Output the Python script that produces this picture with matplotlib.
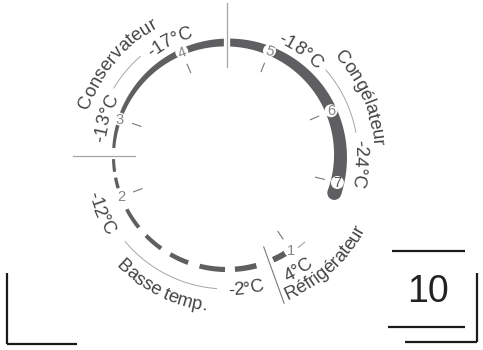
import matplotlib.pyplot as plt
import numpy as np
from matplotlib.font_manager import FontProperties
from matplotlib.patches import Circle, Polygon

# dial geometry (pixel space of the 483x350 picture)
CX, CY, R = 227, 156, 113.5

# setting numbers on the dial and their angles (degrees, counter-clockwise from east)
positions = ['1', '2', '3', '4', '5', '6', '7']
position_angles = [304, 201, 161, 113.5, 68, 23.5, -13.5]
position_rot = [0, 0, 0, 20, -20, 0, 0]

# temperature labels along the dial
temp_labels = ['-13°C', '-17°C', '-18°C', '-24°C', '-12°C', '-2°C', '4°C']
temp_angles = [162.5, 116.5, 55, -3.5, 204.5, 278, 302]
temp_radius = [123, 124, 124, 128, 144.5, 139.5, 139.5]
temp_outward = [True, True, True, True, False, False, False]

# zone names
zones = ['Conservateur', 'Congélateur', 'Basse temp.', 'Réfrigérateur']
zone_angles = [140, 23.5, 243.5, 312.5]
zone_radius = [146, 146, 156, 156]
zone_outward = [True, True, False, False]

# thin bracket arcs (start, end angle, radius)
bracket_arcs = [(149, 131, 132), (41, 10.5, 131), (220, 265.5, 133)]

# dashed "low temperature" range
dash_spans = [(180.5, 188), (191, 196.5), (208, 219), (224.5, 234.5),
              (240, 250), (256, 269), (274, 285), (294, 301)]

ARC = '#5f5f61'
TEXT = '#444446'
GREY = '#a6a6a6'


def polar(r, a):
    t = np.radians(a)
    return CX + r * np.cos(t), CY - r * np.sin(t)


def band(a0, a1, w0, w1, n=120):
    a = np.linspace(a0, a1, n)
    w = np.linspace(w0, w1, n)
    outer = np.column_stack(polar(R + w / 2, a))
    inner = np.column_stack(polar(R - w / 2, a))
    return np.vstack([outer, inner[::-1]])


def advance(renderer, ch, fp):
    w1 = renderer.get_text_width_height_descent('|' + ch + '|', fp, ismath=False)[0]
    w0 = renderer.get_text_width_height_descent('||', fp, ismath=False)[0]
    return w1 - w0


def arc_text(ax, renderer, s, r, mid, fs, outward):
    fp = FontProperties(family='Liberation Sans', size=fs)
    advs = [advance(renderer, ch, fp) for ch in s]
    total = sum(advs)
    sign = -1 if outward else 1
    a = np.radians(mid) - sign * total / 2 / r
    for ch, w in zip(s, advs):
        ac = np.degrees(a + sign * w / 2 / r)
        x, y = polar(r, ac)
        rot = ac - 90 if outward else ac + 90
        ax.text(x, y, ch, rotation=rot, rotation_mode='anchor', ha='center',
                va='baseline', fontproperties=fp, color=TEXT)
        a += sign * w / r


fig = plt.figure(figsize=(4.83, 3.5), dpi=100)
ax = fig.add_axes([0, 0, 1, 1])
ax.set_xlim(0, 483)
ax.set_ylim(350, 0)
ax.axis('off')
renderer = fig.canvas.get_renderer()

# solid tapered arc with a round end
ax.add_patch(Polygon(band(176, -19, 3, 14), closed=True, fc=ARC, ec='none'))
ax.add_patch(Circle(polar(R, -19), 7, fc=ARC, ec='none'))

# dashed part, getting a bit heavier towards the bottom
for a0, a1 in dash_spans:
    w0 = 3 + (a0 - 180) / 120 * 3
    w1 = 3 + (a1 - 180) / 120 * 3
    ax.add_patch(Polygon(band(a0, a1, w0, w1, 30), closed=True, fc=ARC, ec='none'))
ax.plot(*zip(polar(116, 308), polar(116, 312)), color=GREY, lw=0.8)

# crossing guide lines
for ang, r0, r1 in [(90, 89, 153), (180, 92, 154)]:
    ax.plot(*zip(polar(R - 9, ang), polar(R + 9, ang)), color='white', lw=4.5,
            solid_capstyle='butt')
    ax.plot(*zip(polar(r0, ang), polar(r1, ang)), color=GREY, lw=0.9)
ax.plot(*zip(polar(98, -68), polar(158, -68.8)), color='#7a7a7a', lw=0.8)

# inner ticks
for ang in position_angles:
    ax.plot(*zip(polar(91, ang), polar(100, ang)), color='#777777', lw=0.8)

# setting numbers
for lab, ang, rot in zip(positions, position_angles, position_rot):
    x, y = polar(R, ang)
    ax.add_patch(Circle((x, y), 6.5, fc='white', ec='none', zorder=3))
    ax.text(x, y + 0.5, lab, ha='center', va='center', rotation=rot,
            family='Liberation Sans', fontsize=10.5,
            color='#555555' if lab == '7' else '#858585', zorder=4)

# bracket arcs
for a0, a1, r in bracket_arcs:
    a = np.linspace(a0, a1, 60)
    ax.plot(*polar(r, a), color=GREY, lw=0.7)

for s, ang, r, out in zip(temp_labels, temp_angles, temp_radius, temp_outward):
    arc_text(ax, renderer, s, r, ang, 13.3, out)
for s, ang, r, out in zip(zones, zone_angles, zone_radius, zone_outward):
    arc_text(ax, renderer, s, r, ang, 13.3, out)

# page furniture: corner marks and page number box
corner_lines = [((7, 7), (273, 344)), ((7, 77), (344, 344)),
                ((392, 465), (251, 251)), ((388, 465), (327, 327)),
                ((477, 477), (273, 342)), ((405, 477), (342, 342))]
for xs, ys in corner_lines:
    ax.plot(xs, ys, color='#1a1a1a', lw=1.6, solid_capstyle='butt')
ax.text(428, 292, '10', ha='center', va='center', family='Liberation Sans',
        fontsize=27, color='#222222')

fig.savefig('out.png', dpi=100)
